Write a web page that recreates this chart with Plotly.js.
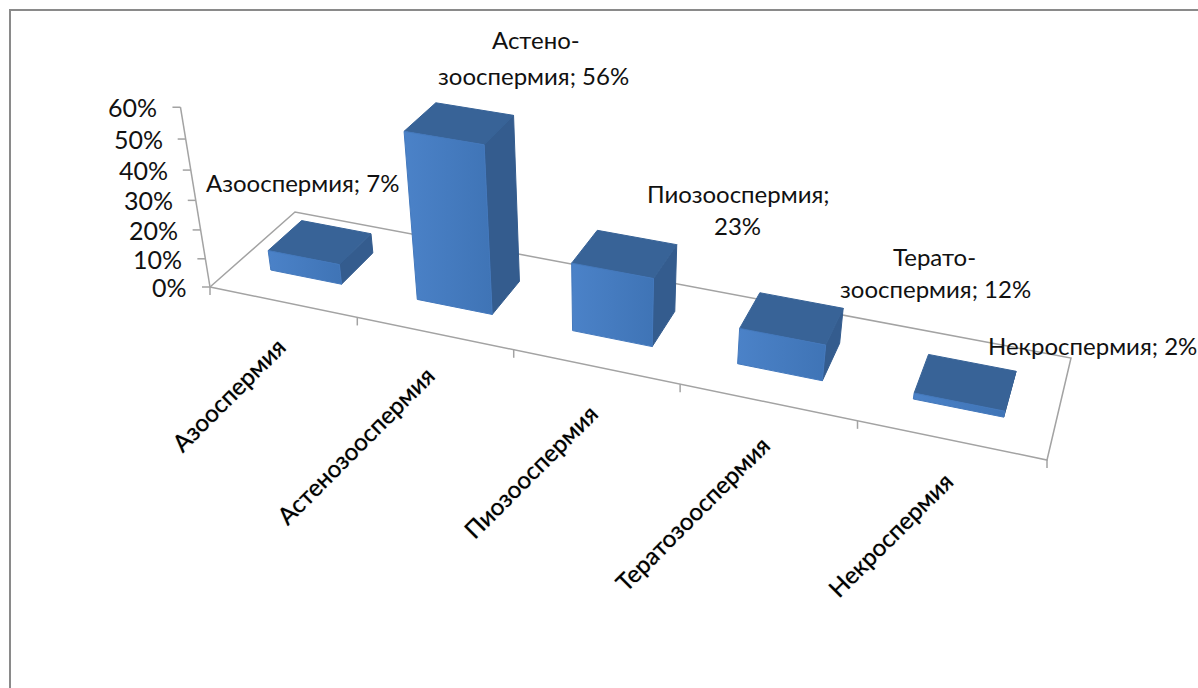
<!DOCTYPE html>
<html>
<head>
<meta charset="utf-8">
<script src="https://cdn.plot.ly/plotly-3.0.1.min.js"></script>
<style>html,body{margin:0;padding:0;background:#fff}#chart{width:1198px;height:688px}</style>
</head>
<body>
<div id="chart"></div>
<script>
// Share of each sperm pathology, percent
const categories = ["Азооспермия", "Астенозооспермия", "Пиозооспермия", "Тератозооспермия", "Некроспермия"];
const values = [7, 56, 23, 12, 2];
const dataLabels = ["Азооспермия; 7%", "Астено-<br>зооспермия; 56%", "Пиозооспермия;<br>23%", "Терато-<br>зооспермия; 12%", "Некроспермия; 2%"];
const valueTicks = [0, 10, 20, 30, 40, 50, 60];
const valueTickLabels = ["0%", "10%", "20%", "30%", "40%", "50%", "60%"];

// Page positions of the text that does not follow the projection, one entry per text line
const dataLabelAnchors = [
  [[302, 182]],
  [[536, 39], [533, 75]],
  [[738, 193], [737, 225]],
  [[934, 256], [935, 288]],
  [[1092, 345]]
];
const categoryLabelAnchors = [[228, 394], [355, 445], [530, 471], [692, 513], [890, 534]];

// Perspective camera: floor corners and the point the verticals converge on
const floorFL = [210, 287], floorBL = [295, 212], floorBR = [1071, 358], floorFR = [1047, 460];
const verticalVanish = [605, 2690];
const verticalScale = -0.00116;

// Homography from the unit floor square onto the floor quadrilateral
function floorMatrix() {
  const [x0, y0] = floorFL, [x1, y1] = floorFR, [x2, y2] = floorBR, [x3, y3] = floorBL;
  const dx1 = x1 - x2, dx2 = x3 - x2, sx = x0 - x1 + x2 - x3;
  const dy1 = y1 - y2, dy2 = y3 - y2, sy = y0 - y1 + y2 - y3;
  const det = dx1 * dy2 - dx2 * dy1;
  const g = (sx * dy2 - dx2 * sy) / det;
  const h = (dx1 * sy - sx * dy1) / det;
  return { a: x1 - x0 + g * x1, b: x3 - x0 + h * x3, c: x0, d: y1 - y0 + g * y1, e: y3 - y0 + h * y3, f: y0, g, h };
}
const M = floorMatrix();

// u: position along the categories (0..5), v: percent, w: depth (0 front .. 1 back)
function project(u, v, w) {
  const s = u / categories.length;
  const X = M.a * s + M.b * w + M.c;
  const Y = M.d * s + M.e * w + M.f;
  const W = M.g * s + M.h * w + 1;
  const k = v * verticalScale;
  return [(X + k * verticalVanish[0]) / (W + k), (Y + k * verticalVanish[1]) / (W + k)];
}

const traces = [];
const axisColor = "#a3a3a3";

function polyline(points, color, width) {
  traces.push({
    x: points.map(p => p[0]), y: points.map(p => p[1]),
    mode: "lines", line: { color, width }, hoverinfo: "skip", showlegend: false
  });
}

function face(points, fill, gradient) {
  const closed = points.concat([points[0]]);
  const t = {
    x: closed.map(p => p[0]), y: closed.map(p => p[1]),
    mode: "lines", fill: "toself", fillcolor: fill,
    line: { color: fill, width: 1 }, hoverinfo: "skip", showlegend: false
  };
  if (gradient) t.fillgradient = { type: "horizontal", colorscale: [[0, gradient[0]], [1, gradient[1]]] };
  traces.push(t);
}

// Chart area frame
polyline([[10, 688], [10, 10], [1198, 10]], "#8a8a8a", 2);

// Floor outline and the value axis
const n = categories.length;
polyline([project(0, 0, 0), project(0, 0, 1), project(n, 0, 1), project(n, 0, 0), project(0, 0, 0)], axisColor, 1.5);
polyline([project(0, 0, 0), project(0, 60, 0)], axisColor, 1.5);

for (let i = 0; i <= n; i++) {
  const p = project(i, 0, 0);
  polyline([[p[0], p[1]], [p[0], p[1] + 8]], axisColor, 1.5);
}
valueTicks.forEach(v => {
  const p = project(0, v, 0);
  polyline([[p[0], p[1]], [p[0] - 8, p[1]]], axisColor, 1.5);
});

// Bars: right side, then top, then front
const gapLeft = 0.24, gapRight = 0.27, depthNear = 0.3, depthFar = 0.7;
values.forEach((v, i) => {
  const u0 = i + gapLeft, u1 = i + 1 - gapRight;
  const fl0 = project(u0, 0, depthNear), fr0 = project(u1, 0, depthNear), br0 = project(u1, 0, depthFar);
  const fl1 = project(u0, v, depthNear), fr1 = project(u1, v, depthNear), br1 = project(u1, v, depthFar), bl1 = project(u0, v, depthFar);
  face([fr0, br0, br1, fr1], "#345c8e");
  face([fl1, fr1, br1, bl1], "#386397");
  face([fl0, fr0, fr1, fl1], "#4479bd", ["#4b82c8", "#3f74b6"]);
});

const textFont = "Lato, 'Open Sans', 'Noto Sans', sans-serif";
const annotations = [];

dataLabels.forEach((label, i) => label.split("<br>").forEach((line, j) => annotations.push({
  x: dataLabelAnchors[i][j][0], y: dataLabelAnchors[i][j][1], text: line, showarrow: false,
  xanchor: "center", yanchor: "middle", align: "center",
  font: { family: textFont, size: 24, color: "#111" }
})));

categories.forEach((t, i) => annotations.push({
  x: categoryLabelAnchors[i][0], y: categoryLabelAnchors[i][1], text: t, showarrow: false,
  xanchor: "center", yanchor: "middle", textangle: -45,
  font: { family: textFont, size: 24, color: "#000", shadow: "0 0 1px rgba(0,0,0,0.6)" }
}));

valueTicks.forEach((v, i) => {
  const p = project(0, v, 0);
  annotations.push({
    x: p[0] - 21, y: p[1], text: valueTickLabels[i], showarrow: false,
    xanchor: "right", yanchor: "middle",
    font: { family: textFont, size: 25, color: "#111" }
  });
});

const layout = {
  width: 1198, height: 688,
  margin: { l: 0, r: 0, t: 0, b: 0 },
  paper_bgcolor: "#fff", plot_bgcolor: "#fff",
  xaxis: { range: [0, 1198], visible: false, fixedrange: true },
  yaxis: { range: [688, 0], visible: false, fixedrange: true },
  showlegend: false, hovermode: false,
  annotations
};

Plotly.newPlot("chart", traces, layout, { displayModeBar: false, staticPlot: true });
</script>
</body>
</html>
